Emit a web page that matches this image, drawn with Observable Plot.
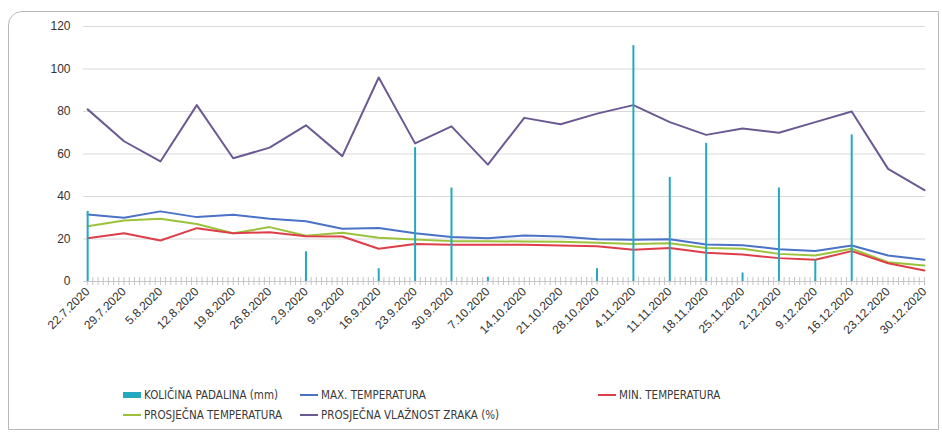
<!DOCTYPE html>
<html><head><meta charset="utf-8">
<script src="https://cdn.jsdelivr.net/npm/d3@7"></script>
<script src="https://cdn.jsdelivr.net/npm/@observablehq/plot@0.6"></script>
<style>
body{margin:0;background:#fff;}
#frame{position:absolute;left:8px;top:11px;width:931px;height:419px;border:1px solid #b8b8b8;border-radius:14px 0 0 0;box-sizing:border-box;}
#chart{position:absolute;left:0;top:0;}
#legend{position:absolute;left:123px;top:388px;font-family:"Liberation Sans Narrow","DejaVu Sans Condensed",sans-serif;font-size:11.5px;color:#3a3a3a;}
.item{position:absolute;display:flex;align-items:center;white-space:nowrap;}
.sw{display:inline-block;width:18px;margin-right:3px;}
</style></head>
<body>
<div id="frame"></div>
<div id="chart"></div>
<div id="legend"></div>
<script>
const weeks = ["22.7.2020","29.7.2020","5.8.2020","12.8.2020","19.8.2020","26.8.2020","2.9.2020","9.9.2020","16.9.2020","23.9.2020","30.9.2020","7.10.2020","14.10.2020","21.10.2020","28.10.2020","4.11.2020","11.11.2020","18.11.2020","25.11.2020","2.12.2020","9.12.2020","16.12.2020","23.12.2020","30.12.2020"];
const rain    = [33,0,0,0,0,0,14,0,6,63,44,2,0,0,6,111,49,65,4,44,10,69,0,0];
const maxTemp = [31.5,30,33,30.3,31.4,29.5,28.4,24.8,25.2,22.7,20.9,20.4,21.6,21.2,19.9,19.6,19.9,17.4,17.1,15.2,14.3,16.9,12.2,10.2];
const minTemp = [20.4,22.7,19.3,25.1,22.7,23.2,21.3,21.2,15.4,17.7,17.3,17.3,17.3,16.9,16.6,14.9,15.8,13.5,12.7,11,10.2,14.3,8.6,5.2];
const avgTemp = [26,28.7,29.5,27.1,22.7,25.6,21.5,22.9,20.6,19.8,19,19,18.8,18.7,18.2,17.7,18,15.8,15.4,13,12.2,15.4,9.1,7.5];
const humidity= [81,66,56.5,83,58,63,73.5,59,96,65,73,55,77,74,79,83,75,69,72,70,75,80,53,43];
const yTicks = [0,20,40,60,80,100,120];

const seriesNames = ["KOLIČINA PADALINA (mm)","MAX. TEMPERATURA","MIN. TEMPERATURA","PROSJEČNA TEMPERATURA","PROSJEČNA VLAŽNOST ZRAKA (%)"];
const colors = ["#24A8C0","#4A72C6","#DE3E4A","#9CC23C","#6B5A92"];

const rows = weeks.map((w,i)=>({day:i*7, label:w, rain:rain[i], max:maxTemp[i], min:minTemp[i], avg:avgTemp[i], hum:humidity[i]}));
const weekDays = rows.map(r=>r.day);
const allDays = d3.range(0, weeks.length*7 - 6);

const chart = Plot.plot({
  width: 942, height: 370,
  marginLeft: 83, marginRight: 17, marginTop: 26, marginBottom: 89,
  x: {domain: [-0.8, 161.2]},
  y: {domain: [0,120]},
  style: {fontFamily: "Liberation Sans, Arial, sans-serif", fontSize: "12px", color: "#333", background: "transparent"},
  marks: [
    Plot.ruleY(yTicks.filter(t=>t>0), {y: d=>d, stroke: "#d9d9d9", strokeWidth: 1}),
    Plot.axisY({ticks: yTicks, tickSize: 0, tickPadding: 13, label: null, fontSize: 12}),
    Plot.line(rows, {x:"day", y:"max", stroke: colors[1], strokeWidth: 2}),
    Plot.line(rows, {x:"day", y:"avg", stroke: colors[3], strokeWidth: 2}),
    Plot.line(rows, {x:"day", y:"min", stroke: colors[2], strokeWidth: 2}),
    Plot.line(rows, {x:"day", y:"hum", stroke: colors[4], strokeWidth: 2}),
    Plot.ruleY([0], {stroke: "#c8c8c8"}),
    Plot.axisX({ticks: allDays, tickSize: 8, dy: -4, tickFormat: () => "", label: null, stroke: "#c4c4c4", strokeOpacity: 1}),
    Plot.ruleX(rows.filter(r=>r.rain>0), {x:"day", y:"rain", stroke: colors[0], strokeWidth: 2}),
    Plot.axisX({ticks: weekDays, tickFormat: d => weeks[d/7], tickSize: 0, tickPadding: 8, tickRotate: -45, label: null, fontSize: 12})
  ]
});
document.getElementById("chart").appendChild(chart);

const legend = document.getElementById("legend");
const pos = [[0,0],[177,0],[475,0],[0,20],[177,20]];
seriesNames.forEach((n,i)=>{
  const it = document.createElement("div");
  it.className = "item";
  it.style.left = pos[i][0]+"px";
  it.style.top = pos[i][1]+"px";
  const sw = document.createElement("span");
  sw.className = "sw";
  sw.style.height = i===0 ? "6px" : "2px";
  sw.style.background = colors[i];
  it.appendChild(sw);
  it.appendChild(document.createTextNode(n));
  legend.appendChild(it);
});
</script>
</body></html>
